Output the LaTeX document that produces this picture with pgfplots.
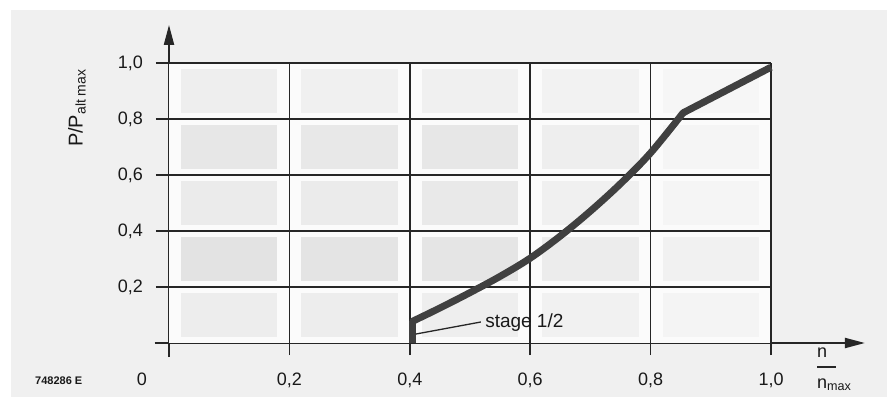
\documentclass[border=0pt]{standalone}
\usepackage{pgfplots}
\pgfplotsset{compat=1.18}
\usepackage{fontspec}
\setmainfont{Liberation Sans}
\usetikzlibrary{arrows.meta}
\newcommand{\cellrow}[6]{%
  \fill[gray!#2] (axis cs:0.02,#1+0.022) rectangle (axis cs:0.18,#1+0.178);
  \fill[gray!#3] (axis cs:0.22,#1+0.022) rectangle (axis cs:0.38,#1+0.178);
  \fill[gray!#4] (axis cs:0.42,#1+0.022) rectangle (axis cs:0.58,#1+0.178);
  \fill[gray!#5] (axis cs:0.62,#1+0.022) rectangle (axis cs:0.78,#1+0.178);
  \fill[gray!#6] (axis cs:0.82,#1+0.022) rectangle (axis cs:0.98,#1+0.178);
}
\begin{document}
\begin{tikzpicture}[x=1pt,y=1pt]
\fill[white] (0,0) rectangle (890,399);
\fill[gray!12] (11,2) rectangle (887,389);
\begin{axis}[
  anchor=origin, at={(169pt,56pt)},
  x=602pt, y=280pt,
  xmin=-0.024, xmax=1.156, ymin=-0.05, ymax=1.136,
  axis lines=middle,
  axis line style={line width=2pt, black!85, -{Triangle[length=20pt,width=10pt]}},
  xtick={0.2,0.4,0.6,0.8,1.0},
  ytick={0.2,0.4,0.6,0.8,1.0},
  major tick length=0pt,
  tick style={draw=none},
  /pgf/number format/.cd, use comma, fixed, fixed zerofill, precision=1, assume math mode=true,
  /pgfplots/.cd,
  tick label style={font=\fontsize{18}{20}\selectfont, inner sep=0pt, text=black!90},
  xticklabel style={anchor=center, yshift=-37pt},
  yticklabel style={anchor=east, xshift=-26pt},
  clip=false,
]
\fill[gray!3] (axis cs:0,0) rectangle (axis cs:1,1);
\cellrow{0}{14}{14}{13}{11}{9}
\cellrow{0.2}{22}{21}{20}{15}{11}
\cellrow{0.4}{16}{16}{17}{12}{8}
\cellrow{0.6}{19}{18}{19}{13}{8}
\cellrow{0.8}{13}{12}{12}{10}{7}
\pgfplotsinvokeforeach{0.2,0.4,0.6,0.8,1.0}{
  \draw[line width=1.6pt, black!85] (axis cs:#1,-0.043) -- (axis cs:#1,1);
  \draw[line width=1.6pt, black!85] (axis cs:-0.022,#1) -- (axis cs:1,#1);
}
% stage 1/2 step at n/nmax = 0.4
\addplot[line width=7pt, color=black!75, line cap=butt, mark=none]
  coordinates {(0.405,0) (0.405,0.078)};
% power curve up to the knee
\addplot[line width=7pt, color=black!75, line cap=round, smooth, tension=0.55, mark=none]
  coordinates {(0.405,0.078) (0.45,0.125) (0.5,0.18) (0.55,0.238) (0.6,0.303)
               (0.65,0.382) (0.7,0.471) (0.75,0.569) (0.8,0.679) (0.854,0.822)};
% straight part above the knee
\addplot[line width=7pt, color=black!75, line cap=butt, mark=none]
  coordinates {(0.854,0.822) (1.0,0.985)};
\draw[line width=1.3pt, black!85] (axis cs:0.41,0.032) -- (axis cs:0.518,0.075);
\node[anchor=base west, inner sep=0pt, font=\fontsize{19}{21}\selectfont, text=black!90]
  at (axis cs:0.525,0.057) {stage 1/2};
\end{axis}
\node[font=\fontsize{18}{20}\selectfont, text=black!90] at (142,20) {0};
\node[rotate=90, font=\fontsize{20}{22}\selectfont, text=black!90] at (77,291) {P/P\textsubscript{alt max}};
\node[anchor=base west, inner sep=0pt, font=\fontsize{18}{20}\selectfont, text=black!90] at (817,42) {n};
\draw[line width=1.2pt, black!85] (817,32) -- (836,32);
\node[anchor=base west, inner sep=0pt, font=\fontsize{18}{20}\selectfont, text=black!90] at (817,11) {n\textsubscript{max}};
\node[anchor=west, inner sep=0pt, font=\bfseries\fontsize{11}{13}\selectfont, text=black!90] at (35,18) {748286 E};
\end{tikzpicture}
\end{document}
